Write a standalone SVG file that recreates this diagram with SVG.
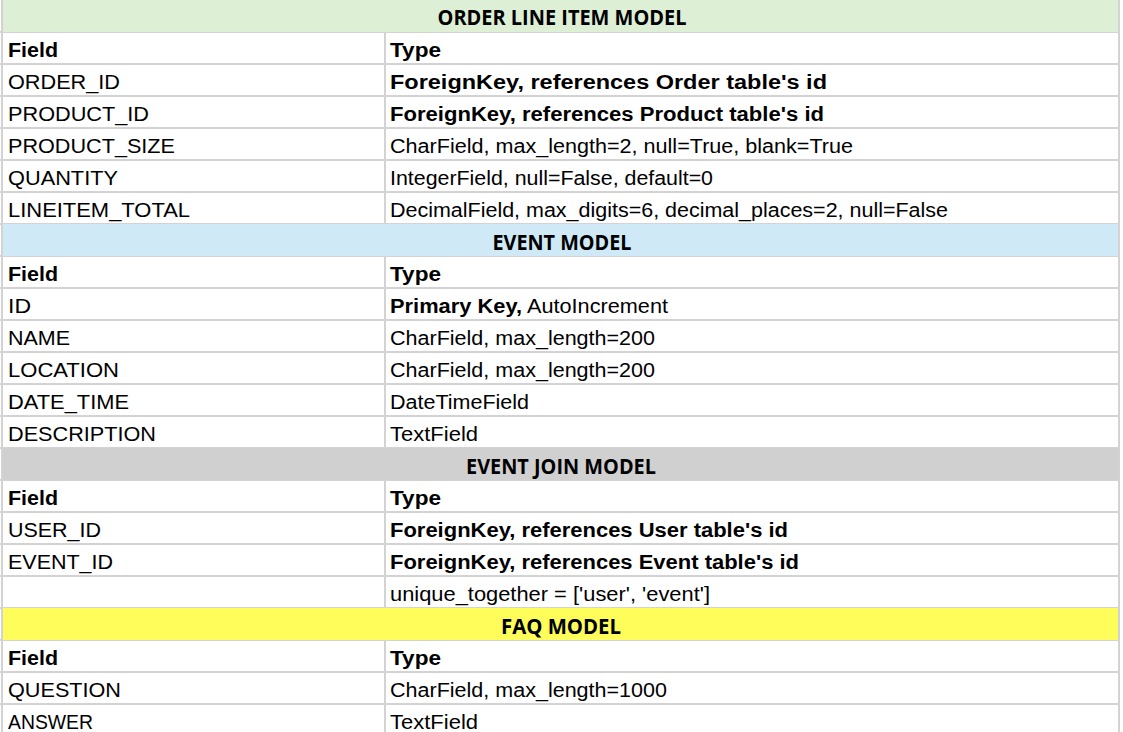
<svg xmlns="http://www.w3.org/2000/svg" width="1123" height="732" viewBox="0 0 1123 732">
<style>
.bg{fill:#ffffff}
.grid{stroke:#d3d3d3;stroke-width:2;fill:none}
.c{font-family:"Liberation Sans",Arial,sans-serif;font-size:19.5px;fill:#000}
.bd{font-weight:bold}
.t{font-family:"Open Sans","Noto Sans",sans-serif;font-weight:bold;font-size:21px;fill:#000;text-anchor:middle}
.green{fill:#ddf0d5}
.blue{fill:#cfeaf6}
.gray{fill:#d0d0d0}
.yellow{fill:#fefd5a}
</style>
<rect class="bg" x="0" y="0" width="1123" height="732"/>
<g id="grid">
<path class="grid" d="M0 32H1120M0 64H1120M0 96H1120M0 128H1120M0 160H1120M0 192H1120M0 224H1120M0 256H1120M0 288H1120M0 320H1120M0 352H1120M0 384H1120M0 416H1120M0 448H1120M0 480H1120M0 512H1120M0 544H1120M0 576H1120M0 608H1120M0 640H1120M0 672H1120M0 704H1120"/>
<path class="grid" d="M2 0V732M385 0V732M1119 0V732"/>
</g>
<g id="order-line-item-model">
<rect class="green" x="3" y="0" width="1115" height="32"/>
<text class="t" x="562" y="25" textLength="249" lengthAdjust="spacingAndGlyphs">ORDER LINE ITEM MODEL</text>
<text class="c bd" x="8" y="57" textLength="50" lengthAdjust="spacingAndGlyphs">Field</text>
<text class="c bd" x="390" y="57" textLength="51" lengthAdjust="spacingAndGlyphs">Type</text>
<text class="c" x="8" y="89" textLength="112" lengthAdjust="spacingAndGlyphs">ORDER_ID</text>
<text class="c bd" x="390" y="89" textLength="437" lengthAdjust="spacingAndGlyphs">ForeignKey, references Order table's id</text>
<text class="c" x="8" y="121" textLength="141" lengthAdjust="spacingAndGlyphs">PRODUCT_ID</text>
<text class="c bd" x="390" y="121" textLength="434" lengthAdjust="spacingAndGlyphs">ForeignKey, references Product table's id</text>
<text class="c" x="8" y="153" textLength="167" lengthAdjust="spacingAndGlyphs">PRODUCT_SIZE</text>
<text class="c" x="390" y="153" textLength="463" lengthAdjust="spacingAndGlyphs">CharField, max_length=2, null=True, blank=True</text>
<text class="c" x="8" y="185" textLength="110" lengthAdjust="spacingAndGlyphs">QUANTITY</text>
<text class="c" x="390" y="185" textLength="323" lengthAdjust="spacingAndGlyphs">IntegerField, null=False, default=0</text>
<text class="c" x="8" y="217" textLength="182" lengthAdjust="spacingAndGlyphs">LINEITEM_TOTAL</text>
<text class="c" x="390" y="217" textLength="558" lengthAdjust="spacingAndGlyphs">DecimalField, max_digits=6, decimal_places=2, null=False</text>
</g>
<g id="event-model">
<rect class="blue" x="3" y="224" width="1115" height="32"/>
<text class="t" x="562" y="250" textLength="139" lengthAdjust="spacingAndGlyphs">EVENT MODEL</text>
<text class="c bd" x="8" y="281" textLength="50" lengthAdjust="spacingAndGlyphs">Field</text>
<text class="c bd" x="390" y="281" textLength="51" lengthAdjust="spacingAndGlyphs">Type</text>
<text class="c" x="8" y="313" textLength="23" lengthAdjust="spacingAndGlyphs">ID</text>
<text class="c bd" x="390" y="313" textLength="132" lengthAdjust="spacingAndGlyphs">Primary Key,</text>
<text class="c" x="527" y="313" textLength="141" lengthAdjust="spacingAndGlyphs">AutoIncrement</text>
<text class="c" x="8" y="345" textLength="62" lengthAdjust="spacingAndGlyphs">NAME</text>
<text class="c" x="390" y="345" textLength="265" lengthAdjust="spacingAndGlyphs">CharField, max_length=200</text>
<text class="c" x="8" y="377" textLength="111" lengthAdjust="spacingAndGlyphs">LOCATION</text>
<text class="c" x="390" y="377" textLength="265" lengthAdjust="spacingAndGlyphs">CharField, max_length=200</text>
<text class="c" x="8" y="409" textLength="121" lengthAdjust="spacingAndGlyphs">DATE_TIME</text>
<text class="c" x="390" y="409" textLength="139" lengthAdjust="spacingAndGlyphs">DateTimeField</text>
<text class="c" x="8" y="441" textLength="148" lengthAdjust="spacingAndGlyphs">DESCRIPTION</text>
<text class="c" x="390" y="441" textLength="88" lengthAdjust="spacingAndGlyphs">TextField</text>
</g>
<g id="event-join-model">
<rect class="gray" x="3" y="448" width="1115" height="32"/>
<text class="t" x="561" y="474" textLength="190" lengthAdjust="spacingAndGlyphs">EVENT JOIN MODEL</text>
<text class="c bd" x="8" y="505" textLength="50" lengthAdjust="spacingAndGlyphs">Field</text>
<text class="c bd" x="390" y="505" textLength="51" lengthAdjust="spacingAndGlyphs">Type</text>
<text class="c" x="8" y="537" textLength="93" lengthAdjust="spacingAndGlyphs">USER_ID</text>
<text class="c bd" x="390" y="537" textLength="398" lengthAdjust="spacingAndGlyphs">ForeignKey, references User table's id</text>
<text class="c" x="8" y="569" textLength="105" lengthAdjust="spacingAndGlyphs">EVENT_ID</text>
<text class="c bd" x="390" y="569" textLength="409" lengthAdjust="spacingAndGlyphs">ForeignKey, references Event table's id</text>
<text class="c" x="390" y="601" textLength="320" lengthAdjust="spacingAndGlyphs">unique_together = ['user', 'event']</text>
</g>
<g id="faq-model">
<rect class="yellow" x="3" y="608" width="1115" height="32"/>
<text class="t" x="561" y="634" textLength="120" lengthAdjust="spacingAndGlyphs">FAQ MODEL</text>
<text class="c bd" x="8" y="665" textLength="50" lengthAdjust="spacingAndGlyphs">Field</text>
<text class="c bd" x="390" y="665" textLength="51" lengthAdjust="spacingAndGlyphs">Type</text>
<text class="c" x="8" y="697" textLength="113" lengthAdjust="spacingAndGlyphs">QUESTION</text>
<text class="c" x="390" y="697" textLength="277" lengthAdjust="spacingAndGlyphs">CharField, max_length=1000</text>
<text class="c" x="8" y="729" textLength="85" lengthAdjust="spacingAndGlyphs">ANSWER</text>
<text class="c" x="390" y="729" textLength="88" lengthAdjust="spacingAndGlyphs">TextField</text>
</g>
<g id="connectors"/>
</svg>
